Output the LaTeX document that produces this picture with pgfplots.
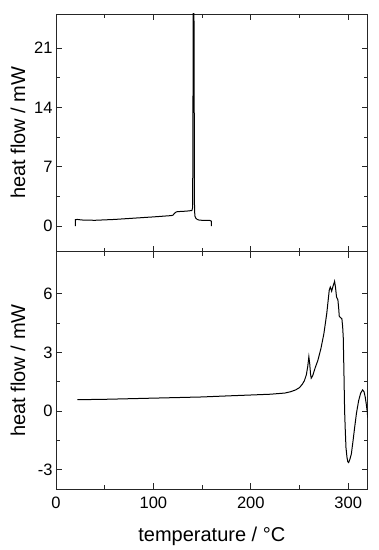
\documentclass[border=0pt]{standalone}
\usepackage{pgfplots}
\pgfplotsset{compat=1.18}
\usepackage{fontspec}
\setmainfont{Liberation Sans}
\begin{document}
\begin{tikzpicture}[x=1pt,y=1pt]
\path (0,0) rectangle (379,550);
\pgfplotsset{
  every axis/.append style={
    scale only axis, width=311.7pt, height=237.7pt,
    xmin=0, xmax=320,
    xtick={0,100,200,300}, minor x tick num=1,
    minor y tick num=1,
    tick align=inside,
    major tick length=6pt, minor tick length=4pt,
    axis line style={line width=0.9pt, black!85},
    every tick/.style={line width=0.8pt, black!85},
    tick label style={font=\fontsize{16.5}{19}\selectfont},
    xticklabel style={yshift=-4pt},
    label style={font=\fontsize{20}{24}\selectfont},
    y label style={at={(axis description cs:0,0.5)}, anchor=center, yshift=38pt},
    /pgf/number format/assume math mode=true,
  },
}
\begin{axis}[at={(56pt,298.3pt)}, anchor=south west,
  ymin=-3, ymax=25, ytick={0,7,14,21},
  xticklabels={}, ylabel={heat flow / mW}]
\addplot[black, line width=1pt] coordinates {
(20,0) (20,0.78) (22,0.8) (26,0.74) (30,0.72) (40,0.7) (60,0.8) (80,0.95) (100,1.1) (118,1.25) (120,1.3) (121.5,1.5) (123,1.65) (124.5,1.72) (128,1.74) (134,1.78) (139.5,1.85) (140.3,2.2) (141.3,40) (142.2,2) (142.6,1.2) (143.5,0.95) (145,0.8) (147,0.72) (150,0.7) (158,0.68) (159.5,0.6) (159.5,0)
};
\end{axis}
\begin{axis}[at={(56pt,60.7pt)}, anchor=south west,
  ymin=-4, ymax=8.15, ytick={-3,0,3,6},
  xlabel={temperature / °C}, ylabel={heat flow / mW},
  x label style={at={(axis description cs:0.5,0)}, anchor=base, yshift=-52.4pt}]
\addplot[black, line width=1pt] coordinates {
(22,0.58) (50,0.6) (100,0.66) (150,0.72) (179,0.78) (200,0.82) (220,0.86) (235,0.92) (241,0.99) (246,1.08) (250,1.2) (253,1.38) (255,1.55) (257,1.85) (258.5,2.3) (259.6,2.78) (260.5,2.4) (261.3,1.9) (262,1.68) (263.5,1.8) (266,2.2) (268.8,2.58) (272,3.2) (275,3.95) (278,5.0) (280.5,6.17) (281.6,6.34) (282.3,6.25) (283,6.13) (284.5,6.4) (286,6.63) (287,6.3) (288,5.83) (289.4,5.69) (290.3,5.2) (290.8,4.85) (292,4.78) (293.5,4.72) (294.3,4.3) (294.9,3.77) (295.6,2.0) (296.3,0.0) (297,-1.0) (297.7,-1.87) (298.7,-2.35) (299.5,-2.58) (300.4,-2.63) (301.5,-2.5) (303.2,-2.2) (305,-1.5) (306.6,-0.84) (308.5,-0.1) (310.7,0.53) (312.8,0.92) (314.8,1.08) (316.3,0.98) (317.5,0.7) (318.7,0.3) (319.6,-0.07) (320,-0.33)
};
\end{axis}
\end{tikzpicture}
\end{document}
